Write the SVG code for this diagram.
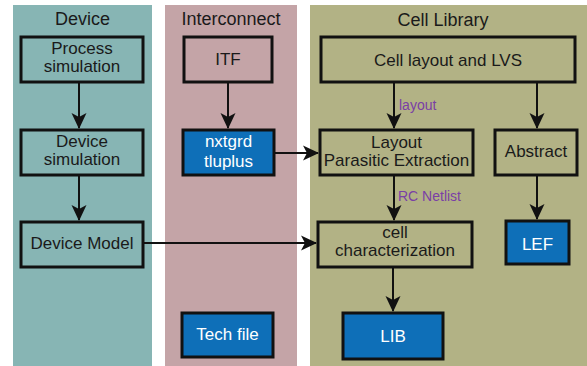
<svg xmlns="http://www.w3.org/2000/svg" width="587" height="366" viewBox="0 0 587 366">
<defs>
<style>
.panel{stroke:none}
.box{fill:none;stroke:#111;stroke-width:3}
.blue{fill:#0e6fb8;stroke:#111;stroke-width:3}
.t{font-family:"Liberation Sans",Arial,sans-serif;font-size:17px;fill:#1a1a1a;text-anchor:middle}
.tw{font-family:"Liberation Sans",Arial,sans-serif;font-size:17px;fill:#ffffff;text-anchor:middle}
.title{font-family:"Liberation Sans",Arial,sans-serif;font-size:18px;fill:#1a1a1a;text-anchor:middle}
.lbl{font-family:"Liberation Sans",Arial,sans-serif;font-size:14px;fill:#7a3fa6}
.conn{stroke:#111;stroke-width:2;fill:none}
</style>
<marker id="ah" viewBox="-16 -8 17 16" refX="0" refY="0" markerWidth="17" markerHeight="16" markerUnits="userSpaceOnUse" orient="auto">
<path d="M1,0 L-15,-7.5 L-11,0 L-15,7.5 Z" fill="#111"/>
</marker>
</defs>
<rect width="587" height="366" fill="#ffffff"/>
<g id="panel-device">
<rect class="panel" x="13" y="5" width="139" height="361" fill="#87b5b4"/>
<text class="title" x="82.5" y="25">Device</text>
</g>
<g id="panel-interconnect">
<rect class="panel" x="165" y="5" width="132" height="361" fill="#c4a4a7"/>
<text class="title" x="231" y="25">Interconnect</text>
</g>
<g id="panel-cell">
<rect class="panel" x="310" y="5" width="277" height="361" fill="#b2b285"/>
<text class="title" x="443" y="26">Cell Library</text>
</g>
<g id="connectors">
<line class="conn" x1="79" y1="82" x2="79" y2="128" marker-end="url(#ah)"/>
<line class="conn" x1="79" y1="175" x2="79" y2="220" marker-end="url(#ah)"/>
<line class="conn" x1="228" y1="82" x2="228" y2="128" marker-end="url(#ah)"/>
<line class="conn" x1="274" y1="153" x2="318" y2="153" marker-end="url(#ah)"/>
<line class="conn" x1="143" y1="243" x2="316" y2="243" marker-end="url(#ah)"/>
<line class="conn" x1="394" y1="82" x2="394" y2="128" marker-end="url(#ah)"/>
<line class="conn" x1="537" y1="82" x2="537" y2="128" marker-end="url(#ah)"/>
<line class="conn" x1="394" y1="175" x2="394" y2="220" marker-end="url(#ah)"/>
<line class="conn" x1="537" y1="175" x2="537" y2="219" marker-end="url(#ah)"/>
<line class="conn" x1="393" y1="267" x2="393" y2="311" marker-end="url(#ah)"/>
<text class="lbl" x="399" y="110">layout</text>
<text class="lbl" x="398" y="201">RC Netlist</text>
</g>
<g id="process-simulation">
<rect class="box" x="21" y="37" width="122" height="45"/>
<text class="t" x="82" y="54">Process</text>
<text class="t" x="82" y="72">simulation</text>
</g>
<g id="device-simulation">
<rect class="box" x="21" y="130" width="122" height="45"/>
<text class="t" x="82" y="147">Device</text>
<text class="t" x="82" y="165">simulation</text>
</g>
<g id="device-model">
<rect class="box" x="21" y="222" width="122" height="45"/>
<text class="t" x="82" y="249">Device Model</text>
</g>
<g id="itf">
<rect class="box" x="184" y="37" width="88" height="45"/>
<text class="t" x="228" y="65">ITF</text>
</g>
<g id="nxtgrd">
<rect class="blue" x="183" y="130" width="91" height="45"/>
<text class="tw" x="228.5" y="147">nxtgrd</text>
<text class="tw" x="228.5" y="167">tluplus</text>
</g>
<g id="tech-file">
<rect class="blue" x="182" y="313" width="91" height="44"/>
<text class="tw" x="227.5" y="340">Tech file</text>
</g>
<g id="cell-layout">
<rect class="box" x="321" y="37" width="254" height="45"/>
<text class="t" x="448" y="66">Cell layout and LVS</text>
</g>
<g id="layout-pex">
<rect class="box" x="320" y="130" width="153" height="45"/>
<text class="t" x="396.5" y="148">Layout</text>
<text class="t" x="396.5" y="166">Parasitic Extraction</text>
</g>
<g id="abstract">
<rect class="box" x="495" y="130" width="82" height="45"/>
<text class="t" x="536" y="157">Abstract</text>
</g>
<g id="cell-char">
<rect class="box" x="318" y="222" width="154" height="45"/>
<text class="t" x="395" y="238">cell</text>
<text class="t" x="395" y="256">characterization</text>
</g>
<g id="lef">
<rect class="blue" x="506" y="221" width="63" height="43"/>
<text class="tw" x="537.5" y="250">LEF</text>
</g>
<g id="lib">
<rect class="blue" x="343" y="313" width="100" height="46"/>
<text class="tw" x="393" y="342">LIB</text>
</g>
</svg>
